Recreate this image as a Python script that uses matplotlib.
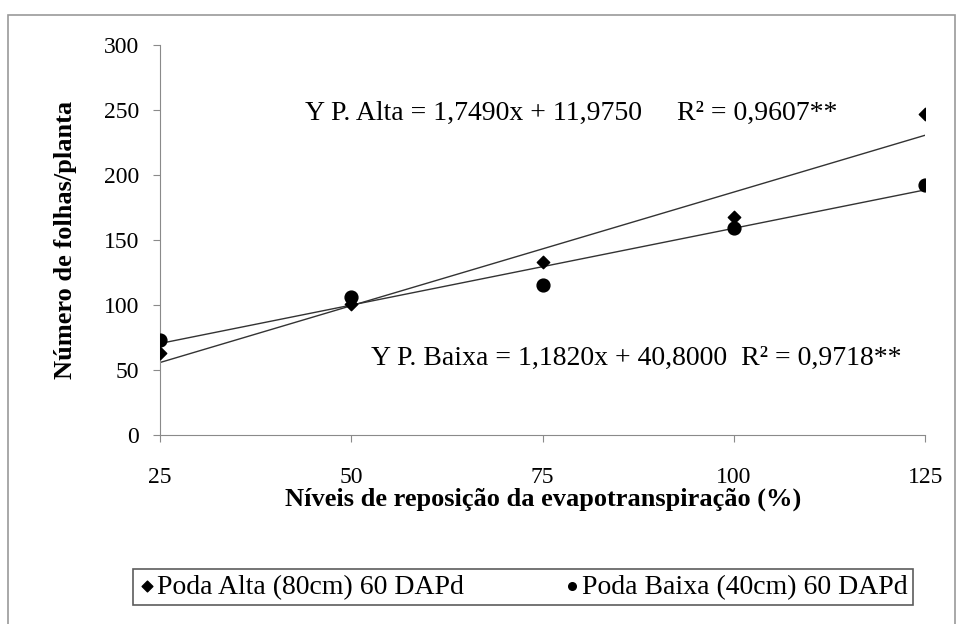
import numpy as np
import matplotlib.pyplot as plt
from matplotlib.patches import Rectangle
from matplotlib.font_manager import FontProperties

plt.rcParams['font.family'] = ['Liberation Serif', 'DejaVu Serif']

niveis = [25, 50, 75, 100, 125]
poda_alta = [63, 101, 133, 168, 247]
poda_baixa = [73, 106, 115, 159, 192]

coef_alta = (1.7490, 11.9750)
coef_baixa = (1.1820, 40.8000)

fig = plt.figure(figsize=(9.64, 6.24), dpi=100)
ax = fig.add_axes([0.166, 0.303, 0.794, 0.625])

# outer frame of the chart area (bottom edge runs off the picture)
fig.patches.append(Rectangle((0.008, -0.02), 0.983, 0.996, transform=fig.transFigure,
                             fill=False, edgecolor='#9a9a9a', lw=1.2))

x = np.array(niveis)
ax.plot(x, coef_alta[0] * x + coef_alta[1], color='#333333', lw=1.0)
ax.plot(x, coef_baixa[0] * x + coef_baixa[1], color='#333333', lw=1.0)
ax.scatter(niveis, poda_alta, marker='D', s=40, color='black', zorder=3,
           label='Poda Alta (80cm) 60 DAPd')
ax.scatter(niveis, poda_baixa, marker='o', s=85, color='black', zorder=3,
           label='Poda Baixa (40cm) 60 DAPd')

ax.set_xlim(25, 125)
ax.set_ylim(0, 300)
ax.set_xticks(niveis)
ax.set_yticks(range(0, 301, 50))
for s in ['top', 'right']:
    ax.spines[s].set_visible(False)
for s in ['left', 'bottom']:
    ax.spines[s].set_color('#8a8a8a')
ax.tick_params(direction='out', length=5, color='#8a8a8a', labelsize=17)
ax.tick_params(axis='x', pad=18)
ax.tick_params(axis='y', pad=10)

ax.set_ylabel('Número de folhas/planta', fontsize=19, fontweight='bold', labelpad=19)
ax.set_xlabel('Níveis de reposição da evapotranspiração (%)', fontsize=19,
              fontweight='bold', labelpad=0)

ax.text(44, 247.5, 'Y P. Alta = 1,7490x + 11,9750     R² = 0,9607**',
        fontsize=20, va='center')
ax.text(52.5, 59, 'Y P. Baixa = 1,1820x + 40,8000  R² = 0,9718**',
        fontsize=20, va='center')

leg_font = FontProperties(family='Liberation Serif', size=20)
leg = fig.legend(loc='lower left', bbox_to_anchor=(0.138, 0.03, 0.809, 0.052),
                 mode='expand', ncol=2, prop=leg_font,
                 frameon=True, fancybox=False, edgecolor='#333333', handletextpad=0.05,
                 handlelength=0.6, borderpad=0.2, borderaxespad=0)
leg.get_frame().set_linewidth(1.2)
for h in leg.legend_handles:
    h.set_sizes([30])

fig.savefig('out.png', dpi=100)
